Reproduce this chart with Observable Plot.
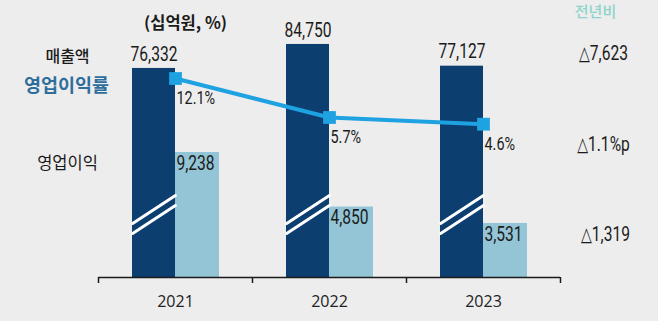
<!DOCTYPE html>
<html><head><meta charset="utf-8">
<script src="https://cdn.jsdelivr.net/npm/d3@7"></script>
<script src="https://cdn.jsdelivr.net/npm/@observablehq/plot@0.6"></script>
<style>
html,body{margin:0;padding:0;background:#ededed;}
#chart{position:relative;width:658px;height:321px;overflow:hidden;background:#ededed;}
#chart svg{position:absolute;left:0;top:0;}
</style></head><body><div id="chart"></div>
<script>
// ---- data ----
const years = ["2021", "2022", "2023"];
const sales = [76332, 84750, 77127];        // 매출액 (십억원)
const opProfit = [9238, 4850, 3531];        // 영업이익 (십억원)
const opMargin = [12.1, 5.7, 4.6];          // 영업이익률 (%)
const unitLabel = "(십억원, %)";
const seriesLabels = ["매출액", "영업이익률", "영업이익"];
const yoyTitle = "전년비";
const yoyLabels = ["△7,623", "△1.1%p", "△1,319"];

// ---- build ----
const rows = years.map((year, i) => ({year, sales: sales[i], op: opProfit[i], margin: opMargin[i]}));
const first = [rows[0]], last = [rows[rows.length - 1]];
const fmt = d3.format(",");
const W = 658, H = 321, mL = 98, mR = 98, mB = 44;
const half = (W - mL - mR) / years.length / 2;
const NUM = "Roboto,'DejaVu Sans Condensed',sans-serif";
const KR = "'Noto Sans CJK KR','Noto Sans',sans-serif";
const navy = "#0c3e70", light = "#93c5d6", lineBlue = "#1fa2e2", ink = "#1b1b1b";
const breakShape = {draw(ctx, l) { ctx.moveTo(0, 0); ctx.lineTo(0, -l); }};
const zero = () => 0;
const numText = {fontFamily: NUM, fontSize: 19.5, fontWeight: 400, fill: ink, lineAnchor: "middle"};

const bars = Plot.plot({
  width: W, height: H, marginLeft: mL, marginRight: mR, marginTop: 0, marginBottom: mB,
  style: {background: "transparent", fontFamily: "'Open Sans',sans-serif", fontSize: "16px", color: "#222", overflow: "visible"},
  x: {type: "band", domain: years, padding: 0, tickSize: 0, tickPadding: 18, label: null},
  // broken value axis: short segment for operating profit, compressed segment for sales
  y: {type: "linear", domain: [0, 2000, 10000, 70000, 90000], range: [H - mB, 242, 142.5, 86, 29], axis: null},
  marks: [
    Plot.barY(rows, {x: "year", y: "sales", fill: navy, insetLeft: 34, insetRight: 77}),
    Plot.barY(rows, {x: "year", y: "op", fill: light, insetLeft: 77, insetRight: 33}),
    Plot.vector(rows, {x: "year", y: zero, dx: -21.5, dy: -68, length: 51, rotate: 57, anchor: "middle", shape: breakShape, stroke: "white", strokeWidth: 3}),
    Plot.vector(rows, {x: "year", y: zero, dx: -21.5, dy: -58, length: 51, rotate: 57, anchor: "middle", shape: breakShape, stroke: "white", strokeWidth: 3}),
    Plot.ruleY([0], {stroke: ink, strokeWidth: 1.5}),
    Plot.ruleX(years, {x: d => d, y1: zero, y2: zero, dx: -half, insetBottom: -6, stroke: ink, strokeWidth: 1.5}),
    Plot.ruleX(years.slice(-1), {x: d => d, y1: zero, y2: zero, dx: half, insetBottom: -6, stroke: ink, strokeWidth: 1.5}),
    Plot.text(rows, {x: "year", y: "sales", text: d => fmt(d.sales), dx: -21.5, dy: -14, textAnchor: "middle", ...numText}),
    Plot.text(rows, {x: "year", y: "op", text: d => fmt(d.op), dx: 1, dy: 11, textAnchor: "start", ...numText}),
    // row labels on the left, aligned with the 2021 values
    Plot.text(first, {x: "year", y: "sales", text: () => seriesLabels[0], dx: -108, dy: -12, textAnchor: "middle", lineAnchor: "middle", fontFamily: KR, fontSize: 16, fontWeight: 500, fill: ink}),
    Plot.text(first, {x: "year", y: "op", text: () => seriesLabels[2], dx: -108, dy: 11, textAnchor: "middle", lineAnchor: "middle", fontFamily: KR, fontSize: 16.5, fontWeight: 400, fill: ink}),
    // year-on-year column on the right, aligned with the 2023 values
    Plot.text(last, {x: "year", y: "sales", text: () => yoyLabels[0], dx: 120, dy: -12, textAnchor: "middle", ...numText}),
    Plot.text(last, {x: "year", y: "op", text: () => yoyLabels[2], dx: 122, dy: 11, textAnchor: "middle", ...numText}),
    Plot.text([yoyTitle], {frameAnchor: "top-right", dx: 35, dy: 12, textAnchor: "middle", lineAnchor: "middle", fontFamily: KR, fontSize: 15, fontWeight: 500, fill: "#8fd4ca"}),
    Plot.text([unitLabel], {frameAnchor: "top-left", dx: 87, dy: 23, textAnchor: "middle", lineAnchor: "middle", fontFamily: KR, fontSize: 16.5, fontWeight: 700, fill: ink})
  ]
});

const line = Plot.plot({
  width: W, height: H, marginLeft: mL, marginRight: mR, marginTop: 0, marginBottom: mB,
  style: {background: "transparent", overflow: "visible"},
  x: {type: "band", domain: years, padding: 0, axis: null},
  y: {domain: [0, 20], range: [151.7, 29.9], axis: null},
  marks: [
    Plot.line(rows, {x: "year", y: "margin", stroke: lineBlue, strokeWidth: 4}),
    Plot.dot(rows, {x: "year", y: "margin", symbol: "square", r: 7.2, fill: lineBlue}),
    Plot.text(rows, {x: "year", y: "margin", text: d => d.margin.toFixed(1) + "%", dx: 1, dy: 20, textAnchor: "start", ...numText, fontSize: 18}),
    Plot.text(first, {x: "year", y: "margin", text: () => seriesLabels[1], dx: -109, dy: 8, textAnchor: "middle", lineAnchor: "middle", fontFamily: KR, fontSize: 18.5, fontWeight: 700, fill: "#2d6e9d"}),
    Plot.text(last, {x: "year", y: "margin", text: () => yoyLabels[1], dx: 120, dy: 21, textAnchor: "middle", ...numText})
  ]
});

const chart = document.getElementById("chart");
chart.appendChild(bars);
chart.appendChild(line);

// condense the number labels horizontally (narrow grotesque look)
for (const g of chart.querySelectorAll("g")) {
  if (g.getAttribute("font-family") !== NUM) continue;
  for (const t of g.querySelectorAll("text")) {
    const tr = t.getAttribute("transform");
    if (tr) t.setAttribute("transform", tr + " scale(0.8,1)");
    else {
      const x = t.getAttribute("x") || 0, y = t.getAttribute("y") || 0;
      t.removeAttribute("x"); t.removeAttribute("y");
      t.setAttribute("transform", `translate(${x},${y}) scale(0.8,1)`);
    }
  }
}
</script>
</body></html>
